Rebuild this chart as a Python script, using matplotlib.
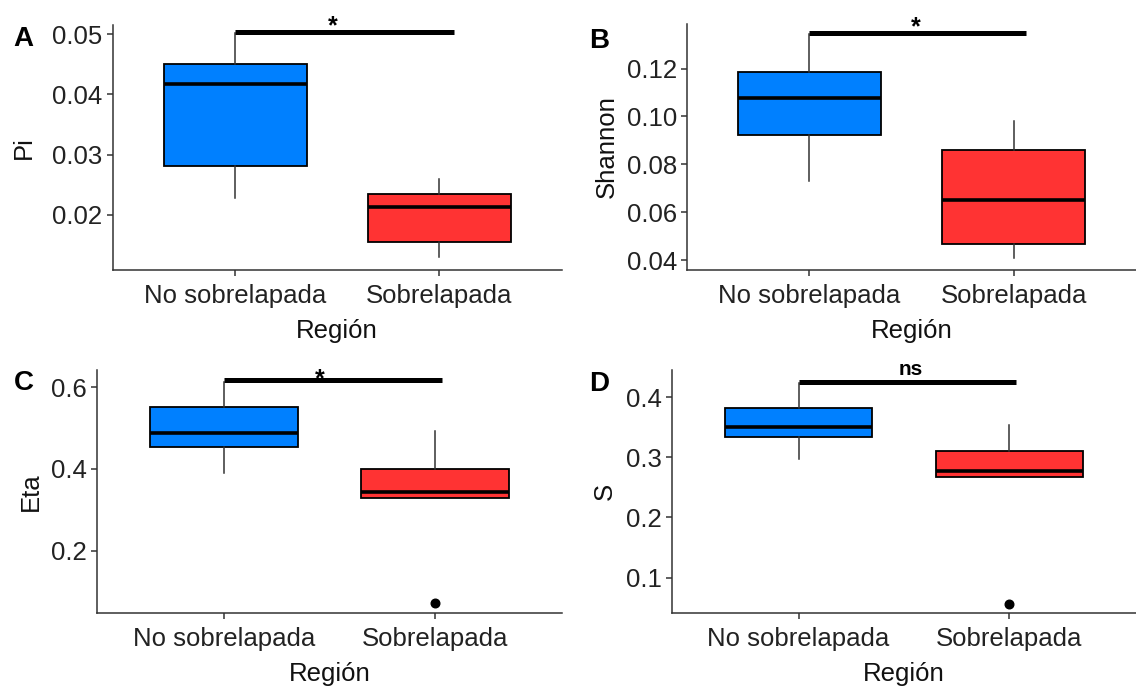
import matplotlib
matplotlib.use("Agg")
import matplotlib.pyplot as plt

plt.rcParams['font.family'] = ['Liberation Sans', 'DejaVu Sans']

regiones = ["No sobrelapada", "Sobrelapada"]

# whisker low, Q1, median, Q3, whisker high
pi_no = [0.0229, 0.0282, 0.0417, 0.0450, 0.0502]
pi_si = [0.0130, 0.0156, 0.0214, 0.0235, 0.0259]
shannon_no = [0.0729, 0.0922, 0.1079, 0.1187, 0.1345]
shannon_si = [0.0411, 0.0468, 0.0650, 0.0860, 0.0979]
eta_no = [0.391, 0.4546, 0.489, 0.551, 0.612]
eta_si = [0.328, 0.328, 0.3445, 0.4007, 0.493]
s_no = [0.2967, 0.334, 0.350, 0.383, 0.4245]
s_si = [0.267, 0.267, 0.277, 0.311, 0.354]

# outliers per group
pi_out = [[], []]
shannon_out = [[], []]
eta_out = [[], [0.0712]]
s_out = [[], [0.0567]]

# significance brackets
sig_labels = ["*", "*", "*", "ns"]
sig_y = [0.0504, 0.1350, 0.618, 0.426]

W, H = 1136, 687
fig = plt.figure(figsize=(W / 100, H / 100), dpi=100)


def rect(l, t, r, b):
    return [l / W, 1 - b / H, (r - l) / W, (b - t) / H]


panels = [
    # letter, ylabel, stats, outliers, ylim, yticks, ticklabels, rect, ylabel x, bracket end, label x, label offset px, label size
    ("A", "Pi", [pi_no, pi_si], pi_out, (0.01088, 0.0515), [0.02, 0.03, 0.04, 0.05],
     ["0.02", "0.03", "0.04", "0.05"], rect(112.5, 25, 562, 270), -0.170, 2.07, 1.48, 5, 18),
    ("B", "Shannon", [shannon_no, shannon_si], shannon_out, (0.0359, 0.1386), [0.04, 0.06, 0.08, 0.10, 0.12],
     ["0.04", "0.06", "0.08", "0.10", "0.12"], rect(687, 24, 1136, 270), -0.151, 2.06, 1.52, 5, 18),
    ("C", "Eta", [eta_no, eta_si], eta_out, (0.0475, 0.642), [0.2, 0.4, 0.6],
     ["0.2", "0.4", "0.6"], rect(97, 370, 562, 613), -0.116, 2.03, 1.455, 0, 18),
    ("D", "S", [s_no, s_si], s_out, (0.041, 0.4455), [0.1, 0.2, 0.3, 0.4],
     ["0.1", "0.2", "0.3", "0.4"], rect(672, 370, 1136, 613), -0.1185, 2.03, 1.53, 12, 15),
]
letter_pos = [(23, 39), (599.5, 40.5), (24, 383.5), (599, 384)]
colors = ["#0080FF", "#FF3333"]
dark = "#333333"

for i, (letter, ylab, stats, outs, ylim, yt, ytl, r, ylx, bx, lx, loff, lsize) in enumerate(panels):
    ax = fig.add_axes(r)
    bstats = []
    for st, fl in zip(stats, outs):
        bstats.append(dict(whislo=st[0], q1=st[1], med=st[2], q3=st[3], whishi=st[4], fliers=fl))
    bp = ax.bxp(bstats, positions=[1, 2], widths=0.7, patch_artist=True, showcaps=False,
                boxprops=dict(edgecolor="black", linewidth=1.3),
                medianprops=dict(color="black", linewidth=2.6, solid_capstyle="butt"),
                whiskerprops=dict(color=dark, linewidth=1.1),
                flierprops=dict(marker="o", markerfacecolor="black", markeredgecolor="black",
                                markersize=6.2, linestyle="none"))
    for patch, c in zip(bp["boxes"], colors):
        patch.set_facecolor(c)

    # bracket
    ax.plot([1, bx], [sig_y[i], sig_y[i]], color="black", linewidth=3.6, solid_capstyle="butt", zorder=5)
    ax.annotate(sig_labels[i], xy=(lx, sig_y[i]), xytext=(0, loff), textcoords="offset pixels",
                ha="center", va="center", fontsize=lsize, fontweight="bold", color="black", zorder=6)

    ax.set_xlim(0.4, 2.6)
    ax.set_ylim(*ylim)
    ax.set_xticks([1, 2])
    ax.set_xticklabels(regiones)
    ax.set_yticks(yt)
    ax.set_yticklabels(ytl)
    for sp in ["top", "right"]:
        ax.spines[sp].set_visible(False)
    for sp in ["left", "bottom"]:
        ax.spines[sp].set_color(dark)
        ax.spines[sp].set_linewidth(1.1)
    ax.tick_params(axis="both", length=4.3, width=1.1, color=dark, labelsize=18.5,
                   labelcolor="#222222", pad=3)
    ax.tick_params(axis="x", pad=5.5)
    ax.set_xlabel("Región", fontsize=18.5, color="#111111", labelpad=8.5)
    ax.set_ylabel(ylab, fontsize=18.5, color="#111111")
    ax.yaxis.set_label_coords(ylx, 0.5)

    fig.text(letter_pos[i][0] / W, 1 - letter_pos[i][1] / H, letter, fontsize=20,
             fontweight="bold", ha="center", va="center", color="black")

fig.savefig("out.png", dpi=100)
